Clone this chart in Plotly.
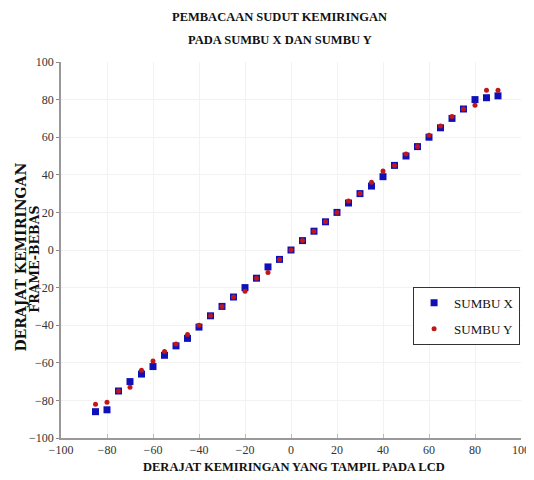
import plotly.graph_objects as go

lcd_angle = [-85, -80, -75, -70, -65, -60, -55, -50, -45, -40, -35, -30, -25, -20, -15, -10, -5, 0,
             5, 10, 15, 20, 25, 30, 35, 40, 45, 50, 55, 60, 65, 70, 75, 80, 85, 90]
sumbu_x = [-86, -85, -75, -70, -66, -62, -56, -51, -47, -41, -35, -30, -25, -20, -15, -9, -5, 0,
           5, 10, 15, 20, 25, 30, 34, 39, 45, 50, 55, 60, 65, 70, 75, 80, 81, 82]
sumbu_y = [-82, -81, -75, -73, -64, -59, -54, -50, -45, -40, -35, -30, -25, -22, -15, -12, -5, 0,
           5, 10, 15, 20, 26, 30, 36, 42, 45, 51, 55, 61, 66, 71, 75, 77, 85, 85]
tick_vals = [-100, -80, -60, -40, -20, 0, 20, 40, 60, 80, 100]

serif = "Liberation Serif"

fig = go.Figure()
fig.add_trace(go.Scatter(x=lcd_angle, y=sumbu_x, mode="markers", name="SUMBU X", legendgroup="x",
                         marker=dict(symbol="square", size=7, color="#1010b8")))
fig.add_trace(go.Scatter(x=lcd_angle, y=sumbu_y, mode="markers", name="SUMBU Y", legendgroup="y",
                         marker=dict(symbol="circle", size=5, color="#c01818")))

fig.update_layout(
    width=534, height=480,
    margin=dict(l=53, r=21, t=54, b=50),
    paper_bgcolor="white", plot_bgcolor="white",
    font=dict(family=serif, color="#222"),
    xaxis=dict(range=[-100, 100], tickvals=tick_vals, showgrid=True, gridcolor="#f2f2f2",
               zeroline=False, showline=True, linecolor="#999", linewidth=1.5,
               ticks="inside", ticklen=4, tickcolor="#bbb", automargin=False,
               tickfont=dict(family=serif, size=12, color="#333")),
    yaxis=dict(range=[-100, 100], tickvals=tick_vals, showgrid=True, gridcolor="#f2f2f2",
               zeroline=False, showline=True, linecolor="#999", linewidth=1.5,
               ticks="outside", ticklen=3, tickcolor="#888", automargin=False,
               tickfont=dict(family=serif, size=12, color="#333")),
    legend=dict(x=0.998, xanchor="right", y=0.402, yanchor="top",
                bordercolor="#333", borderwidth=1, bgcolor="white",
                font=dict(family=serif, size=13, color="#111"),
                itemwidth=30, tracegroupgap=6),
    showlegend=True,
)
# title lines
fig.add_annotation(text="<b>PEMBACAAN SUDUT KEMIRINGAN</b>", xref="paper", yref="paper",
                   x=0.476, y=1.12, xanchor="center", yanchor="middle", showarrow=False,
                   font=dict(family=serif, size=12.5, color="#111"))
fig.add_annotation(text="<b>PADA SUMBU X DAN SUMBU Y</b>", xref="paper", yref="paper",
                   x=0.476, y=1.0585, xanchor="center", yanchor="middle", showarrow=False,
                   font=dict(family=serif, size=12.5, color="#111"))
# x axis title
fig.add_annotation(text="<b>DERAJAT KEMIRINGAN YANG TAMPIL PADA LCD</b>", xref="paper", yref="paper",
                   x=0.506, y=-0.077, xanchor="center", yanchor="middle", showarrow=False,
                   font=dict(family=serif, size=12.5, color="#111"))
# y axis title (two lines)
fig.add_annotation(text="<b>DERAJAT KEMIRINGAN</b>", xref="paper", yref="paper",
                   x=-0.089, y=0.48, xanchor="center", yanchor="middle", textangle=-90,
                   showarrow=False, font=dict(family="DejaVu Serif", size=14, color="#111"))
fig.add_annotation(text="<b>FRAME-BEBAS</b>", xref="paper", yref="paper",
                   x=-0.058, y=0.475, xanchor="center", yanchor="middle", textangle=-90,
                   showarrow=False, font=dict(family="DejaVu Serif", size=12.5, color="#111"))

fig.write_html("out.html")
